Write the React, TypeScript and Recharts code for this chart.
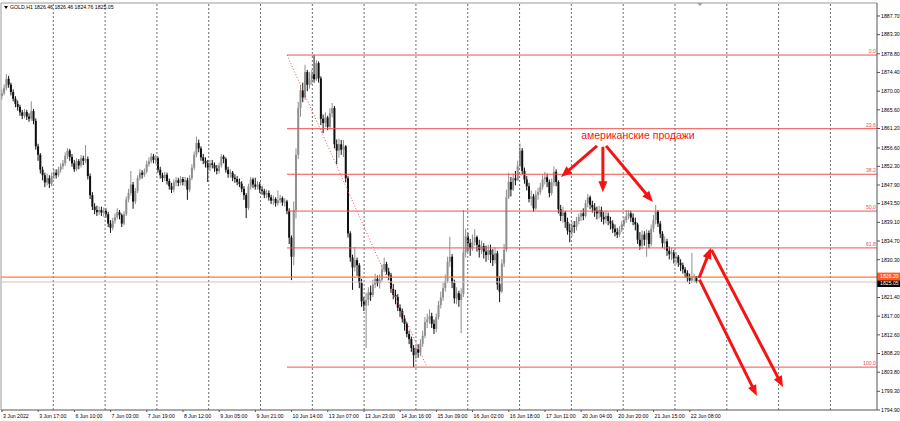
import React from "react";
import {
  Bar,
  ComposedChart,
  ReferenceDot,
  ReferenceLine,
  XAxis,
  YAxis,
} from "recharts";

// GOLD H1, 3 Jun 2022 - 22 Jun 2022 (bar index on x)
const FIRST_OPEN = 1868.8;

const closes = [
  1869.5, 1870.8, 1872.9, 1871.5, 1869.8, 1868.2, 1867.0, 1866.3, 1865.0, 1864.2, 1865.1, 1864.0, 1863.5, 1865.3, 1863.0, 1857.0, 1855.0, 1851.5, 1850.2, 1848.5,
  1849.5, 1848.2, 1850.0, 1850.8, 1850.2, 1851.5, 1852.3, 1853.0, 1854.8, 1856.0, 1854.5, 1853.0, 1851.6, 1853.5, 1852.5, 1854.2, 1853.6, 1854.0, 1850.0, 1845.5,
  1842.8, 1842.0, 1841.5, 1842.0, 1841.4, 1841.8, 1841.0, 1838.8, 1837.8, 1839.5, 1840.3, 1841.5, 1840.8, 1838.8, 1841.0, 1844.5, 1846.0, 1848.0, 1844.0, 1846.5,
  1849.5, 1850.8, 1850.3, 1851.0, 1852.8, 1853.5, 1854.6, 1853.8, 1854.2, 1851.5, 1850.2, 1849.5, 1850.3, 1848.8, 1847.6, 1846.8, 1848.5, 1849.0, 1848.4, 1849.3,
  1848.6, 1849.0, 1846.8, 1849.5, 1852.0, 1855.0, 1857.8, 1856.5, 1854.4, 1853.6, 1853.0, 1852.0, 1853.0, 1852.6, 1851.8, 1851.2, 1852.5, 1854.6, 1854.0, 1851.5,
  1850.5, 1850.8, 1849.6, 1849.3, 1848.6, 1848.2, 1847.0, 1845.5, 1842.5, 1847.5, 1849.2, 1848.0, 1847.5, 1848.0, 1846.8, 1846.5, 1845.6, 1846.0, 1845.0, 1844.2,
  1844.6, 1843.6, 1844.3, 1844.8, 1843.8, 1844.0, 1841.8, 1835.5, 1831.0, 1842.0, 1855.0, 1866.0, 1870.2, 1868.5, 1874.5, 1871.5, 1872.8, 1874.0, 1872.8, 1876.6,
  1873.0, 1863.5, 1862.5, 1863.8, 1861.6, 1864.8, 1866.0, 1857.5, 1856.0, 1857.5, 1856.2, 1857.0, 1849.5, 1836.5, 1830.8, 1828.5, 1830.2, 1829.0, 1824.8, 1820.5,
  1819.5, 1820.8, 1822.6, 1822.0, 1824.4, 1825.8, 1824.8, 1825.6, 1828.0, 1829.3, 1827.5, 1826.6, 1823.4, 1822.0, 1821.5, 1819.0, 1818.2, 1816.4, 1815.2, 1812.8,
  1811.6, 1809.5, 1807.8, 1809.2, 1808.4, 1810.5, 1812.4, 1815.6, 1816.2, 1817.0, 1815.2, 1814.0, 1816.8, 1819.6, 1821.4, 1823.6, 1825.2, 1829.8, 1831.0, 1824.8,
  1821.2, 1822.4, 1820.8, 1822.2, 1832.0, 1835.8, 1834.2, 1833.0, 1834.4, 1835.6, 1833.8, 1832.6, 1833.5, 1832.2, 1831.4, 1832.6, 1831.5, 1830.2, 1831.8, 1824.5,
  1822.8, 1829.4, 1832.6, 1845.0, 1848.6, 1846.8, 1849.5, 1849.0, 1852.4, 1856.0, 1851.2, 1849.2, 1847.6, 1844.6, 1845.2, 1842.4, 1845.6, 1846.2, 1847.4, 1849.2,
  1849.7, 1848.6, 1846.0, 1848.5, 1851.0, 1848.6, 1842.2, 1840.6, 1841.4, 1839.2, 1837.2, 1836.8, 1838.4, 1838.0, 1839.4, 1840.4, 1841.2, 1840.6, 1843.6, 1845.0,
  1843.2, 1842.6, 1841.8, 1841.2, 1842.0, 1840.4, 1839.8, 1840.6, 1839.4, 1838.8, 1837.6, 1836.8, 1836.2, 1837.4, 1838.6, 1839.6, 1840.6, 1841.2, 1840.2, 1839.2,
  1838.6, 1835.0, 1833.6, 1836.2, 1835.0, 1836.6, 1834.0, 1837.6, 1839.6, 1841.6, 1838.8, 1836.4, 1834.2, 1834.6, 1832.4, 1831.6, 1832.0, 1830.6, 1831.0, 1829.6,
  1829.0, 1828.0, 1827.2, 1826.0, 1825.4, 1826.4, 1826.46, 1825.05,
];

const highs = [
  1870.4, 1871.6, 1874.0, 1873.6, 1872.0, 1870.4, 1868.8, 1867.8, 1866.8, 1865.6, 1865.8, 1865.6, 1864.8, 1867.6, 1865.8, 1863.6, 1857.6, 1855.4, 1852.2, 1850.8,
  1850.6, 1850.2, 1850.8, 1851.6, 1851.6, 1852.2, 1853.0, 1853.8, 1855.6, 1856.6, 1856.4, 1855.2, 1853.8, 1854.2, 1854.0, 1855.0, 1854.8, 1857.3, 1854.6, 1850.6,
  1846.2, 1843.6, 1843.0, 1842.8, 1842.8, 1842.6, 1842.4, 1841.6, 1839.6, 1840.2, 1841.2, 1842.4, 1842.0, 1841.2, 1841.8, 1845.2, 1847.0, 1851.2, 1848.6, 1847.2,
  1850.2, 1851.6, 1851.4, 1851.8, 1853.6, 1854.4, 1855.4, 1855.2, 1855.0, 1854.6, 1852.2, 1850.8, 1851.0, 1850.8, 1849.4, 1848.4, 1849.2, 1849.8, 1849.6, 1850.0,
  1849.8, 1849.8, 1849.6, 1850.2, 1852.8, 1855.8, 1859.3, 1858.6, 1857.0, 1855.2, 1854.4, 1853.8, 1853.8, 1853.8, 1853.2, 1852.6, 1853.2, 1855.2, 1855.0, 1854.4,
  1852.2, 1851.6, 1851.2, 1850.4, 1850.0, 1849.4, 1848.8, 1847.6, 1846.0, 1848.2, 1849.8, 1849.6, 1849.6, 1848.8, 1848.6, 1847.6, 1847.0, 1846.8, 1846.6, 1845.6,
  1845.4, 1845.0, 1846.6, 1845.6, 1845.2, 1844.8, 1844.4, 1842.4, 1836.0, 1844.0, 1856.5, 1867.5, 1871.5, 1872.0, 1876.2, 1875.0, 1874.5, 1875.0, 1878.5, 1877.3,
  1877.0, 1873.5, 1864.5, 1865.0, 1864.2, 1866.0, 1867.2, 1866.5, 1858.6, 1858.8, 1858.5, 1858.5, 1857.3, 1850.0, 1837.0, 1831.5, 1833.3, 1830.8, 1829.5, 1825.8,
  1821.5, 1822.5, 1823.8, 1824.2, 1825.6, 1827.0, 1826.6, 1826.8, 1829.2, 1830.8, 1829.8, 1828.4, 1827.2, 1824.6, 1823.2, 1822.2, 1819.8, 1818.8, 1817.2, 1815.6,
  1813.6, 1812.2, 1810.2, 1810.0, 1810.4, 1811.6, 1813.6, 1816.8, 1817.6, 1818.6, 1817.8, 1816.2, 1817.6, 1820.6, 1822.8, 1824.8, 1826.8, 1831.0, 1835.7, 1831.6,
  1825.6, 1823.8, 1823.0, 1823.6, 1842.0, 1837.6, 1836.6, 1835.2, 1836.2, 1837.5, 1836.0, 1835.0, 1834.8, 1834.2, 1833.6, 1833.8, 1833.8, 1832.8, 1833.2, 1832.4,
  1826.4, 1830.4, 1834.0, 1846.8, 1850.8, 1849.8, 1850.6, 1851.2, 1853.6, 1857.7, 1856.6, 1852.0, 1850.0, 1848.4, 1846.6, 1845.8, 1846.6, 1847.2, 1848.4, 1850.2,
  1851.0, 1850.6, 1849.2, 1849.4, 1852.3, 1851.6, 1849.0, 1843.2, 1842.8, 1841.8, 1840.2, 1838.8, 1839.2, 1839.4, 1840.4, 1841.2, 1842.0, 1842.4, 1844.4, 1845.8,
  1845.4, 1844.2, 1843.6, 1842.8, 1843.0, 1842.8, 1841.6, 1841.8, 1841.4, 1840.4, 1839.6, 1838.6, 1837.8, 1838.2, 1839.4, 1840.4, 1842.0, 1842.0, 1841.8, 1841.2,
  1840.2, 1839.0, 1836.8, 1837.2, 1837.0, 1837.4, 1837.2, 1838.6, 1840.8, 1843.2, 1842.0, 1839.4, 1837.0, 1835.8, 1835.2, 1833.4, 1833.0, 1832.6, 1832.0, 1831.4,
  1830.4, 1829.6, 1828.6, 1827.8, 1827.0, 1831.9, 1827.0, 1826.46,
];

const lows = [
  1868.0, 1869.0, 1870.2, 1870.8, 1869.0, 1867.6, 1866.2, 1865.4, 1864.2, 1863.4, 1863.6, 1863.2, 1862.8, 1863.0, 1862.2, 1856.2, 1853.6, 1850.6, 1849.0, 1847.4,
  1847.8, 1847.2, 1847.6, 1849.2, 1849.4, 1849.8, 1850.8, 1851.6, 1852.4, 1854.0, 1853.6, 1852.2, 1851.0, 1851.2, 1851.6, 1852.0, 1852.6, 1853.0, 1849.2, 1844.6,
  1842.0, 1841.0, 1840.6, 1840.8, 1840.6, 1840.4, 1840.2, 1838.0, 1836.6, 1837.2, 1838.8, 1839.8, 1839.8, 1838.0, 1838.4, 1840.6, 1843.8, 1845.4, 1842.3, 1843.4,
  1846.0, 1849.0, 1849.4, 1849.8, 1850.6, 1852.2, 1853.0, 1853.0, 1852.8, 1850.8, 1849.4, 1848.6, 1848.8, 1848.0, 1846.8, 1846.0, 1846.2, 1847.6, 1847.6, 1847.8,
  1847.8, 1847.6, 1844.4, 1846.2, 1849.0, 1851.4, 1854.4, 1855.6, 1853.6, 1852.8, 1852.0, 1848.6, 1851.2, 1851.8, 1851.0, 1850.4, 1850.6, 1852.0, 1853.0, 1850.8,
  1849.6, 1849.6, 1848.8, 1848.4, 1847.8, 1847.4, 1846.2, 1844.4, 1840.1, 1842.0, 1846.8, 1847.2, 1846.8, 1846.8, 1846.0, 1845.6, 1844.8, 1844.8, 1844.2, 1843.4,
  1843.2, 1842.8, 1843.0, 1843.6, 1843.0, 1842.8, 1841.0, 1834.0, 1825.5, 1829.0, 1840.0, 1854.0, 1864.0, 1867.4, 1868.0, 1870.0, 1870.6, 1871.5, 1872.0, 1872.4,
  1872.0, 1862.0, 1860.1, 1861.5, 1860.8, 1861.0, 1863.8, 1856.5, 1852.8, 1854.3, 1855.0, 1854.5, 1848.5, 1835.5, 1829.8, 1823.2, 1827.5, 1826.5, 1823.6, 1819.2,
  1818.2, 1809.5, 1819.5, 1820.6, 1821.5, 1823.6, 1824.0, 1823.5, 1825.0, 1827.5, 1826.8, 1825.5, 1822.5, 1821.0, 1819.8, 1818.2, 1816.8, 1815.5, 1813.6, 1812.0,
  1810.4, 1808.6, 1805.0, 1806.8, 1807.2, 1807.6, 1809.8, 1811.8, 1814.2, 1815.2, 1814.2, 1812.8, 1813.2, 1816.2, 1818.8, 1820.6, 1822.8, 1824.8, 1828.6, 1823.6,
  1820.0, 1819.8, 1819.2, 1813.0, 1821.5, 1830.8, 1832.2, 1831.2, 1832.4, 1833.6, 1832.2, 1830.8, 1831.6, 1830.6, 1829.8, 1830.2, 1829.5, 1828.8, 1829.4, 1823.2,
  1820.3, 1822.4, 1828.6, 1832.2, 1844.6, 1845.2, 1846.5, 1847.8, 1848.8, 1852.0, 1850.4, 1848.2, 1846.6, 1843.8, 1843.0, 1841.6, 1842.0, 1844.4, 1845.6, 1846.8,
  1848.0, 1847.4, 1845.0, 1845.4, 1847.6, 1847.6, 1841.2, 1839.4, 1839.0, 1837.8, 1836.2, 1834.4, 1835.8, 1836.6, 1837.2, 1838.6, 1839.4, 1839.6, 1840.2, 1842.6,
  1842.2, 1841.4, 1840.4, 1839.8, 1840.0, 1839.2, 1838.6, 1838.8, 1838.4, 1837.4, 1836.6, 1835.8, 1835.4, 1835.6, 1836.8, 1838.0, 1839.0, 1839.8, 1839.2, 1838.4,
  1837.2, 1834.0, 1832.6, 1832.8, 1833.6, 1831.0, 1833.0, 1833.4, 1836.8, 1838.6, 1838.0, 1835.4, 1833.0, 1832.6, 1831.2, 1830.4, 1830.2, 1829.4, 1829.2, 1828.6,
  1827.6, 1827.0, 1826.0, 1825.0, 1824.6, 1824.8, 1825.0, 1824.76,
];

// one label every 16 bars
const TICK_BARS = [0, 16, 32, 48, 64, 80, 96, 112, 128, 144, 160, 176, 192, 208, 224, 240, 256, 272, 288, 304];
const TICK_LABELS = [
  "3 Jun 2022", "3 Jun 17:00", "6 Jun 10:00", "7 Jun 03:00", "7 Jun 19:00", "8 Jun 12:00",
  "9 Jun 05:00", "9 Jun 21:00", "10 Jun 14:00", "13 Jun 07:00", "13 Jun 23:00", "14 Jun 16:00",
  "15 Jun 09:00", "16 Jun 02:00", "16 Jun 18:00", "17 Jun 11:00", "20 Jun 04:00", "20 Jun 20:00",
  "21 Jun 15:00", "22 Jun 08:00",
];

const PRICE_TICKS = [
  1887.7, 1883.3, 1878.8, 1874.4, 1870.0, 1865.6, 1861.2, 1856.6, 1852.3, 1847.9, 1843.5,
  1839.1, 1834.7, 1830.3, 1821.4, 1817.0, 1812.6, 1808.2, 1803.8, 1799.3, 1794.9,
];

// Fibonacci retracement
const FIB_RATIOS = [0, 23.6, 38.2, 50, 61.8, 100];
const FIB_HIGH = 1878.5;
const FIB_LOW = 1805.0;
const FIB_FROM = 126;
const FIB_TREND_TO = 187.8;

const BID = 1825.05;
const LINE_LEVEL = 1826.2;

// annotation arrows: [fromBar, fromPrice, toBar, toPrice]
const ARROWS: [number, number, number, number][] = [
  [263.0, 1857.1, 247.1, 1849.8],
  [265.6, 1856.9, 265.6, 1846.2],
  [267.0, 1857.1, 287.7, 1843.9],
  [308.1, 1826.0, 313.4, 1833.1],
  [313.6, 1832.6, 345.2, 1800.3],
  [308.3, 1825.6, 333.7, 1798.2],
];
const NOTE = { bar: 281.1, price: 1859.7, text: "американские продажи" };

const X_MIN = -0.44;
const X_MAX = 386.76;
const Y_MIN = 1794.9;
const Y_MAX = 1890.76;
const GRID_BARS = Array.from({ length: 16 }, (_, k) => 22.67 + k * 22.9);

const BULL = "#8f8f8f";
const BEAR = "#101010";
const FIB = "#f25050";
const RED = "#f41414";
const ORANGE = "#ff7a3c";
const SMALL = "Liberation Sans, Arial, sans-serif";

const bars = closes.map((c, i) => ({
  i,
  o: i === 0 ? FIRST_OPEN : closes[i - 1],
  c,
  h: highs[i],
  l: lows[i],
  range: [lows[i], highs[i]],
}));

function Candle(props: any) {
  const { x, y, width, height, payload } = props;
  const { o, c, h, l } = payload;
  const top = Math.min(y, y + height);
  const span = Math.abs(height);
  const k = h > l ? span / (h - l) : 0;
  const py = (p: number) => top + (h - p) * k;
  const cx = x + width / 2;
  const color = c >= o ? BULL : BEAR;
  const bTop = py(Math.max(o, c));
  const bBot = py(Math.min(o, c));
  return (
    <g>
      <line x1={cx} x2={cx} y1={py(Math.max(h, o, c))} y2={py(Math.min(l, o, c))} stroke={color} strokeWidth={1} />
      <rect x={cx - 1} y={bTop} width={2} height={Math.max(1, bBot - bTop)} fill={color} />
    </g>
  );
}

const arrowShape = (p: any) => {
  const { x1, y1, x2, y2 } = p;
  const dx = x2 - x1;
  const dy = y2 - y1;
  const len = Math.hypot(dx, dy) || 1;
  const ux = dx / len;
  const uy = dy / len;
  const L = 11;
  const W = 4.5;
  const bx = x2 - ux * L;
  const by = y2 - uy * L;
  const pts = `${x2},${y2} ${bx - uy * W},${by + ux * W} ${bx + uy * W},${by - ux * W}`;
  return (
    <g>
      <line x1={x1} y1={y1} x2={bx + ux * 2} y2={by + uy * 2} stroke={RED} strokeWidth={3} />
      <polygon points={pts} fill={RED} />
    </g>
  );
};

const fibShape = (label: string) => (p: any) => (
  <g>
    <line x1={p.x1} y1={p.y1} x2={p.x2} y2={p.y2} stroke={FIB} strokeWidth={1} />
    <text x={p.x2 - 1} y={p.y1 - 1.8} textAnchor="end" fontSize={5.2} fontFamily={SMALL} fill={FIB}>
      {label}
    </text>
  </g>
);

const tagShape = (color: string, width: number, bg: string, text: string, dy: number) => (p: any) => (
  <g>
    <line x1={p.x1} y1={p.y1} x2={p.x2} y2={p.y2} stroke={color} strokeWidth={width} />
    <rect x={p.x2} y={p.y1 + dy - 4} width={24} height={8} fill={bg} />
    <text x={p.x2 + 3} y={p.y1 + dy} dy="0.35em" fontSize={5.2} fontFamily={SMALL} fill="#fff">
      {text}
    </text>
  </g>
);

const XTick = (p: any) => {
  const idx = TICK_BARS.indexOf(p.payload.value);
  return (
    <text x={p.x + 1} y={p.y + 3.5} textAnchor="start" fontSize={5.2} fontFamily={SMALL} fill="#000">
      {TICK_LABELS[idx]}
    </text>
  );
};

const YTick = (p: any) => (
  <text x={p.x} y={p.y} dy="0.35em" textAnchor="start" fontSize={5.2} fontFamily={SMALL} fill="#000">
    {Number(p.payload.value).toFixed(2)}
  </text>
);

export default function App() {
  return (
    <div style={{ position: "relative", width: 900, height: 421, background: "#fff" }}>
      <style>{"body{margin:0}"}</style>
      <ComposedChart
        width={900}
        height={421}
        data={bars}
        margin={{ top: 3, right: 0, bottom: 0, left: 1 }}
      >
        <XAxis
          dataKey="i"
          type="number"
          domain={[X_MIN, X_MAX]}
          allowDataOverflow
          ticks={TICK_BARS}
          interval={0}
          height={11}
          tickSize={2}
          axisLine={{ stroke: "#555" }}
          tickLine={{ stroke: "#555" }}
          tick={XTick}
        />
        <YAxis
          orientation="right"
          type="number"
          domain={[Y_MIN, Y_MAX]}
          allowDataOverflow
          ticks={PRICE_TICKS}
          interval={0}
          width={23}
          tickSize={3}
          tickMargin={1}
          axisLine={{ stroke: "#555" }}
          tickLine={{ stroke: "#555" }}
          tick={YTick}
        />
        <ReferenceLine y={Y_MAX} stroke="#9a9a9a" strokeWidth={1} />
        <ReferenceLine x={X_MIN} stroke="#9a9a9a" strokeWidth={1} />
        {GRID_BARS.map((g) => (
          <ReferenceLine key={"g" + g} x={g} stroke="#6e6e6e" strokeDasharray="2 2" strokeWidth={1} />
        ))}
        <Bar dataKey="range" shape={Candle} barSize={2} isAnimationActive={false} />
        <ReferenceLine
          segment={[{ x: X_MIN, y: BID }, { x: X_MAX, y: BID }]}
          shape={tagShape("#c8c8c8", 1, "#000", BID.toFixed(2), 1)}
        />
        <ReferenceLine
          segment={[{ x: X_MIN, y: LINE_LEVEL }, { x: X_MAX, y: LINE_LEVEL }]}
          shape={tagShape(ORANGE, 1.4, "#ff5a1e", LINE_LEVEL.toFixed(2), -0.5)}
        />
        {FIB_RATIOS.map((r) => {
          const price = FIB_HIGH - ((FIB_HIGH - FIB_LOW) * r) / 100;
          return (
            <ReferenceLine
              key={"f" + r}
              segment={[{ x: FIB_FROM, y: price }, { x: X_MAX, y: price }]}
              shape={fibShape(r.toFixed(1))}
            />
          );
        })}
        <ReferenceLine
          segment={[{ x: FIB_FROM, y: FIB_HIGH }, { x: FIB_TREND_TO, y: FIB_LOW }]}
          stroke={FIB}
          strokeDasharray="1 2"
          strokeWidth={1}
        />
        {ARROWS.map((a, k) => (
          <ReferenceLine
            key={"a" + k}
            segment={[{ x: a[0], y: a[1] }, { x: a[2], y: a[3] }]}
            shape={arrowShape}
          />
        ))}
        <ReferenceDot
          x={NOTE.bar}
          y={NOTE.price}
          r={0}
          shape={(p: any) => (
            <text x={p.cx} y={p.cy} dy="0.35em" textAnchor="middle" fontSize={10.5} fontFamily="Liberation Sans, Arial, sans-serif" fill={RED}>
              {NOTE.text}
            </text>
          )}
        />
        <ReferenceDot
          x={308.5}
          y={Y_MAX}
          r={0}
          shape={(p: any) => (
            <polygon points={`${p.cx - 3},${p.cy} ${p.cx + 3},${p.cy} ${p.cx},${p.cy + 3}`} fill="#a0a0a0" />
          )}
        />
      </ComposedChart>
      <svg width={200} height={14} style={{ position: "absolute", left: 0, top: 0 }}>
        <polygon points="4,6 8,6 6,9" fill="#000" />
        <text x={10} y={7.5} dy="0.35em" fontSize={5.2} fontFamily={SMALL} fill="#000">
          GOLD,H1{"  "}1826.46 1826.46 1824.76 1825.05
        </text>
      </svg>
    </div>
  );
}
